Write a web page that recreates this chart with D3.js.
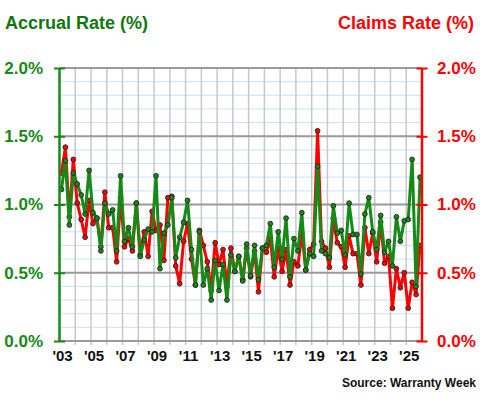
<!DOCTYPE html>
<html>
<head>
<meta charset="utf-8">
<script src="https://cdn.jsdelivr.net/npm/d3@7"></script>
<style>
  body { margin: 0; background: #fff; }
  svg { display: block; font-family: Arial, "Liberation Sans", sans-serif; font-weight: bold; }
</style>
</head>
<body>
<div id="chart"></div>
<script>
// quarterly rates, 2003Q1 .. 2025Q4
var accrual = [
  1.11, 1.32, 0.85, 1.23, 1.15, 1.07, 0.93, 1.25, 0.94, 0.90, 0.66, 1.01,
  0.93, 0.96, 0.66, 1.21, 0.73, 0.83, 0.69, 1.01, 0.62, 0.74, 0.82, 0.80,
  1.21, 0.53, 0.79, 0.85, 1.05, 0.61, 0.76, 0.87, 1.03, 0.67, 0.41, 0.80,
  0.41, 0.53, 0.30, 0.59, 0.37, 0.56, 0.30, 0.63, 0.51, 0.62, 0.44, 0.71,
  0.48, 0.70, 0.45, 0.68, 0.70, 0.86, 0.54, 0.80, 0.60, 0.90, 0.47, 0.75,
  0.66, 0.94, 0.52, 0.64, 0.62, 1.28, 0.66, 0.64, 0.61, 0.99, 0.79, 0.81,
  0.63, 1.01, 0.78, 0.78, 0.49, 0.93, 1.05, 0.80, 0.67, 0.92, 0.65, 0.73,
  0.55, 0.91, 0.73, 0.88, 0.89, 1.33, 0.40, 1.20
];
var claims = [
  1.23, 1.42, 0.91, 1.33, 1.01, 0.89, 0.76, 1.03, 0.86, 0.90, 0.69, 1.09,
  0.83, 0.83, 0.58, 1.05, 0.69, 0.75, 0.66, 1.01, 0.63, 0.80, 0.62, 0.95,
  0.81, 0.85, 0.59, 1.05, 1.06, 0.55, 0.42, 0.73, 0.86, 0.60, 0.41, 0.81,
  0.70, 0.58, 0.37, 0.72, 0.56, 0.67, 0.40, 0.68, 0.51, 0.62, 0.45, 0.68,
  0.47, 0.66, 0.36, 0.68, 0.65, 0.75, 0.47, 0.68, 0.51, 0.67, 0.41, 0.58,
  0.55, 0.79, 0.52, 0.67, 0.71, 1.54, 0.73, 0.68, 0.54, 0.90, 0.72, 0.69,
  0.54, 0.77, 0.64, 0.64, 0.41, 0.83, 0.64, 0.79, 0.58, 0.87, 0.57, 0.62,
  0.24, 0.53, 0.39, 0.50, 0.24, 0.43, 0.34, 0.70
];
var startYear = 2003;
var yearLabels = [2003, 2005, 2007, 2009, 2011, 2013, 2015, 2017, 2019, 2021, 2023, 2025];
var rateTicks = [0, 0.5, 1.0, 1.5, 2.0];

var W = 480, H = 400;
var margin = {left: 59.5, right: 58, top: 68, bottom: 59};
var green = "#168a16", red = "#ff0000";

var svg = d3.select("#chart").append("svg").attr("width", W).attr("height", H);

var x = d3.scaleLinear().domain([2003, 2026]).range([margin.left, W - margin.right]);
var y = d3.scaleLinear().domain([0, 2]).range([H - margin.bottom, margin.top]);

function qx(d, i) { return x(startYear + (i + 0.5) / 4); }

// minor horizontal grid
svg.append("g").selectAll("line")
  .data(d3.range(0, 2.0001, 0.1).filter(function(v) { return Math.round(v * 10) % 5 != 0; }))
  .enter().append("line")
    .attr("x1", x(2003)).attr("x2", x(2026))
    .attr("y1", function(d) { return y(d); }).attr("y2", function(d) { return y(d); })
    .attr("stroke", "#c8e1f8").attr("stroke-width", 1);

// vertical grid
svg.append("g").selectAll("line")
  .data(d3.range(2004, 2026))
  .enter().append("line")
    .attr("x1", function(d) { return x(d); }).attr("x2", function(d) { return x(d); })
    .attr("y1", y(2)).attr("y2", y(0) + 4)
    .attr("stroke", "#c8c8c8").attr("stroke-width", 1.5);

// major horizontal grid
svg.append("g").selectAll("line")
  .data(rateTicks)
  .enter().append("line")
    .attr("x1", x(2003)).attr("x2", x(2026))
    .attr("y1", function(d) { return y(d); }).attr("y2", function(d) { return y(d); })
    .attr("stroke", "#9a9a9a").attr("stroke-width", 1.8);

// year labels
var xAxis = svg.append("g")
  .attr("transform", "translate(2.5," + (H - margin.bottom) + ")")
  .call(d3.axisBottom(x).tickValues(yearLabels).tickSize(0).tickPadding(9)
    .tickFormat(function(d) { return "'" + String(d).slice(2); }));
xAxis.select(".domain").remove();
xAxis.selectAll("text").attr("fill", "#111").style("font-size", "15px");

// series
var line = d3.line().x(qx).y(function(d) { return y(d); });

function drawSeries(data, color) {
  svg.append("path").datum(data)
    .attr("fill", "none").attr("stroke", color).attr("stroke-width", 3)
    .attr("stroke-linejoin", "round")
    .attr("d", line);
  svg.append("g").selectAll("circle")
    .data(data)
    .enter().append("circle")
      .attr("cx", qx).attr("cy", function(d) { return y(d); })
      .attr("r", 2.4)
      .attr("fill", color).attr("stroke", "#222").attr("stroke-width", 0.9);
}
drawSeries(claims, red);
drawSeries(accrual, green);

// left axis
var left = svg.append("g")
  .attr("transform", "translate(" + margin.left + ",0)")
  .call(d3.axisLeft(y).tickValues(rateTicks).tickSize(5.5).tickPadding(11)
    .tickFormat(function(d) { return d.toFixed(1) + "%"; }));
left.select(".domain").attr("stroke", green).attr("stroke-width", 2.5)
  .attr("d", "M0," + y(0) + "V" + y(2));
left.selectAll(".tick line").attr("stroke", green).attr("stroke-width", 2).attr("x1", 5.5);
left.selectAll("text").attr("fill", green).style("font-size", "17px");

// right axis
var right = svg.append("g")
  .attr("transform", "translate(" + (W - margin.right) + ",0)")
  .call(d3.axisRight(y).tickValues(rateTicks).tickSize(5.5).tickPadding(9.5)
    .tickFormat(function(d) { return d.toFixed(1) + "%"; }));
right.select(".domain").attr("stroke", red).attr("stroke-width", 2.5)
  .attr("d", "M0," + y(0) + "V" + y(2));
right.selectAll(".tick line").attr("stroke", red).attr("stroke-width", 2).attr("x1", -5.5);
right.selectAll("text").attr("fill", red).style("font-size", "17px");

// titles
svg.append("text").attr("x", 5).attr("y", 29)
  .attr("fill", "#0f770f").style("font-size", "18px")
  .text("Accrual Rate (%)");
svg.append("text").attr("x", 474).attr("y", 29).attr("text-anchor", "end")
  .attr("fill", red).style("font-size", "18px")
  .text("Claims Rate (%)");
svg.append("text").attr("x", 476).attr("y", 387).attr("text-anchor", "end")
  .attr("fill", "#111").style("font-size", "12px")
  .text("Source: Warranty Week");
</script>
</body>
</html>
